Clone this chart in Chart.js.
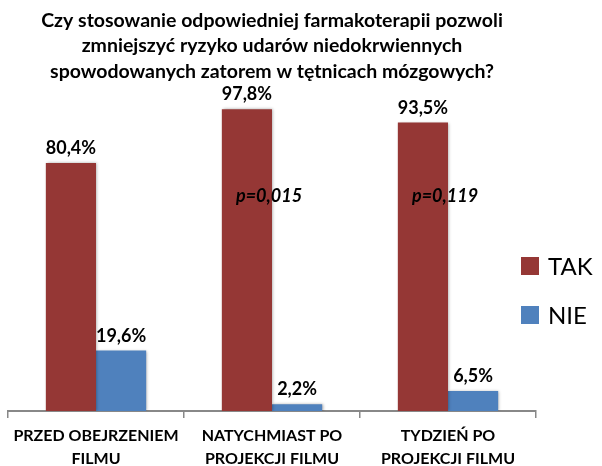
<!DOCTYPE html>
<html>
<head>
<meta charset="utf-8">
<script src="https://cdn.jsdelivr.net/npm/chart.js@4"></script>
<style>
  html, body { margin: 0; padding: 0; background: #fff; }
  #wrap { width: 602px; height: 466px; }
</style>
</head>
<body>
<div id="wrap"><canvas id="chart"></canvas></div>
<script>
// data
var categories = [
    ["PRZED OBEJRZENIEM", "FILMU"],
    ["NATYCHMIAST PO", "PROJEKCJI FILMU"],
    ["TYDZIEŃ PO", "PROJEKCJI FILMU"]
];
var takValues = [80.4, 97.8, 93.5];
var nieValues = [19.6, 2.2, 6.5];
var pValues = [null, "p=0,015", "p=0,119"];
var pLevel = 69.5;   // height (in %) where the p labels sit
var titleLines = [
    "Czy stosowanie odpowiedniej farmakoterapii pozwoli",
    "zmniejszyć ryzyko udarów niedokrwiennych",
    "spowodowanych zatorem w tętnicach mózgowych?"
];

var FONT = "Lato, 'Open Sans', sans-serif";

function fmt(v){
    return v.toFixed(1).replace(".", ",") + "%";
}

// bar shadow, value labels, p labels and legend
var extras = {
    id: "extras",
    beforeDatasetsDraw: function(chart){
        var ctx = chart.ctx;
        ctx.save();
        ctx.shadowColor = "rgba(0,0,0,0.35)";
        ctx.shadowBlur = 3;
        ctx.shadowOffsetX = 1;
        ctx.shadowOffsetY = 0;
    },
    afterDatasetsDraw: function(chart){
        var ctx = chart.ctx;
        ctx.restore();
        ctx.save();
        ctx.fillStyle = "#000";
        ctx.textAlign = "center";
        ctx.textBaseline = "alphabetic";
        ctx.font = "bold 18px " + FONT;
        chart.data.datasets.forEach(function(ds, i){
            chart.getDatasetMeta(i).data.forEach(function(bar, j){
                ctx.fillText(fmt(ds.data[j]), bar.x, bar.y - 9);
            });
        });

        var xs = chart.scales.x, ys = chart.scales.y;
        ctx.font = "italic bold 18px " + FONT;
        ctx.textBaseline = "middle";
        pValues.forEach(function(p, j){
            if (!p) return;
            ctx.fillText(p, xs.getPixelForValue(j) - 3, ys.getPixelForValue(pLevel));
        });

        // legend on the right
        ctx.textAlign = "left";
        ctx.font = "24px " + FONT;
        chart.data.datasets.forEach(function(ds, i){
            var cy = 266 + i * 49;
            ctx.fillStyle = ds.backgroundColor;
            ctx.fillRect(521, cy - 9, 18, 18);
            ctx.fillStyle = "#000";
            ctx.fillText(ds.label, 548, cy + 1);
        });
        ctx.restore();
    }
};

new Chart(document.getElementById("chart"), {
    type: "bar",
    data: {
        labels: categories,
        datasets: [
            { label: "TAK", data: takValues, backgroundColor: "#953735" },
            { label: "NIE", data: nieValues, backgroundColor: "#4F81BD" }
        ]
    },
    options: {
        responsive: true,
        maintainAspectRatio: false,
        animation: false,
        layout: { padding: { left: 8, right: 66, top: 0, bottom: 0 } },
        datasets: { bar: { categoryPercentage: 0.57, barPercentage: 1 } },
        plugins: {
            legend: { display: false },
            tooltip: { enabled: false },
            title: {
                display: true,
                text: titleLines,
                color: "#000",
                font: { family: FONT, size: 19.5, weight: "bold", lineHeight: 1.3 },
                padding: { top: 8, bottom: 18.5 }
            }
        },
        scales: {
            x: {
                grid: {
                    display: true,
                    drawOnChartArea: false,
                    drawTicks: true,
                    tickLength: 7,
                    color: "#888",
                    lineWidth: 1.5
                },
                border: { display: true, color: "#888", width: 2 },
                ticks: {
                    color: "#000",
                    padding: 6,
                    maxRotation: 0,
                    font: { family: FONT, size: 16, weight: "bold", lineHeight: 1.45 }
                },
                afterFit: function(scale){ scale.height = 55; }
            },
            y: {
                display: false,
                min: 0,
                max: 100
            }
        }
    },
    plugins: [extras]
});
</script>
</body>
</html>
